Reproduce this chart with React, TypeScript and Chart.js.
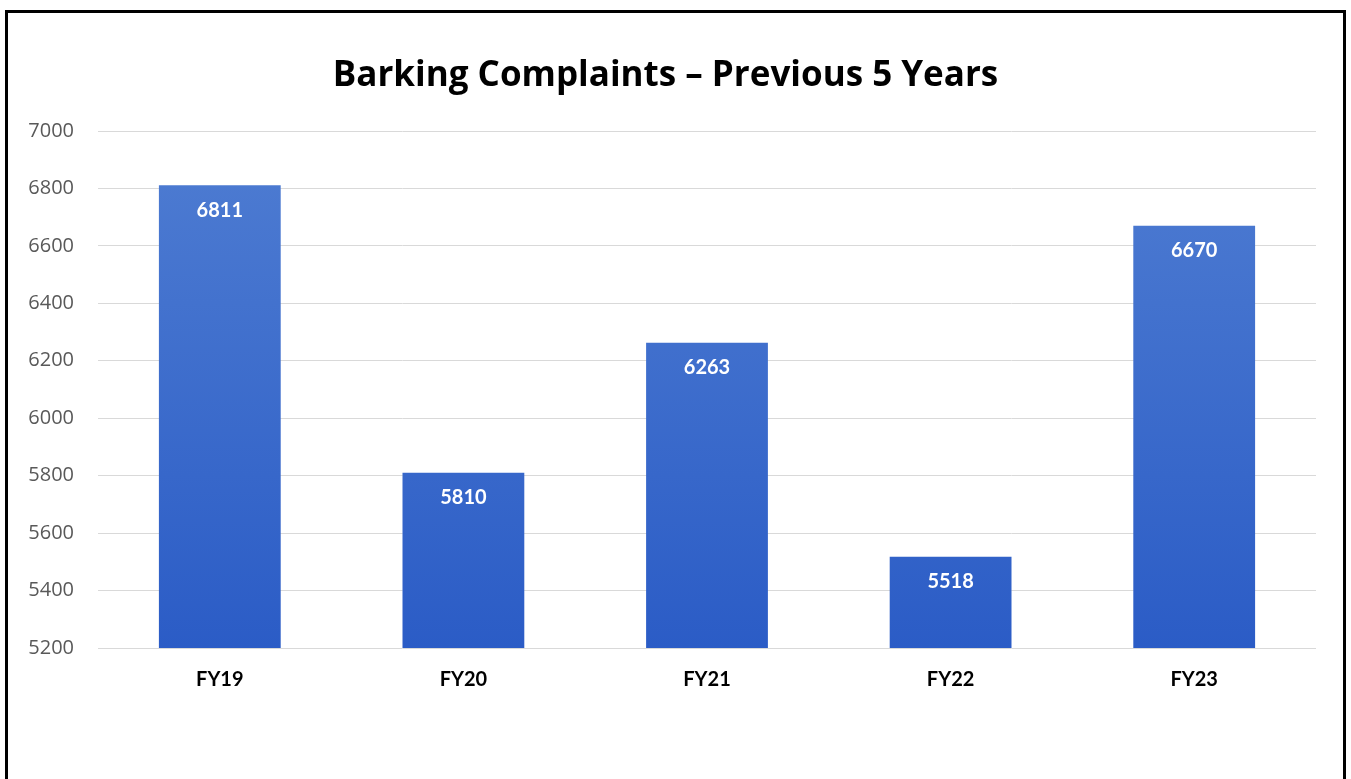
import React, { useEffect, useRef } from "react";
import { Chart, registerables } from "chart.js";

Chart.register(...registerables);

const categories = ["FY19", "FY20", "FY21", "FY22", "FY23"];
const complaints = [6811, 5810, 6263, 5518, 6670];
const yMin = 5200;
const yMax = 7000;
const yStep = 200;
const titleText = "Barking Complaints \u2013 Previous 5 Years";

const valueLabelPlugin = {
  id: "valueLabels",
  afterDatasetsDraw(chart: any) {
    const ctx = chart.ctx;
    const meta = chart.getDatasetMeta(0);
    ctx.save();
    ctx.fillStyle = "#ffffff";
    ctx.font = "bold 20px Lato";
    ctx.textAlign = "center";
    ctx.textBaseline = "middle";
    meta.data.forEach((bar: any, i: number) => {
      const v = chart.data.datasets[0].data[i];
      ctx.fillText(String(v), bar.x, bar.y + 25);
    });
    ctx.restore();
  },
};

export default function App() {
  const canvasRef = useRef<HTMLCanvasElement | null>(null);

  useEffect(() => {
    if (!canvasRef.current) return;
    const chart = new Chart(canvasRef.current, {
      type: "bar",
      data: {
        labels: categories,
        datasets: [
          {
            data: complaints,
            backgroundColor: (c: any) => {
              const area = c.chart.chartArea;
              if (!area) return "#3d6bcc";
              const g = c.chart.ctx.createLinearGradient(0, area.top, 0, area.bottom);
              g.addColorStop(0, "#4f7dd2");
              g.addColorStop(1, "#2b5cc6");
              return g;
            },
            borderWidth: 0,
            categoryPercentage: 1,
            barPercentage: 0.5,
          },
        ],
      },
      options: {
        animation: false,
        responsive: false,
        maintainAspectRatio: false,
        layout: { padding: { left: 15, right: 35, top: 0, bottom: 67 } },
        plugins: {
          legend: { display: false },
          tooltip: { enabled: false },
          title: {
            display: true,
            text: titleText,
            color: "#000000",
            font: { family: "Open Sans", size: 35, weight: "bold" },
            padding: { top: 55, bottom: 34 },
          },
        },
        scales: {
          x: {
            grid: { display: false, drawTicks: false },
            border: { display: false },
            ticks: {
              color: "#000000",
              font: { family: "Lato", size: 20, weight: "bold" },
              padding: 20,
            },
          },
          y: {
            min: yMin,
            max: yMax,
            afterFit: (s: any) => {
              s.width = 83;
            },
            grid: { color: "#d9d9d9", lineWidth: 1, drawTicks: false },
            border: { display: false },
            ticks: {
              stepSize: yStep,
              color: "#595959",
              font: { family: "Open Sans", size: 20 },
              padding: 24,
              callback: (v: any) => String(v),
            },
          },
        },
      },
      plugins: [valueLabelPlugin],
    });
    return () => chart.destroy();
  }, []);

  return (
    <div
      style={{
        position: "absolute",
        left: 0,
        top: 0,
        width: 1351,
        height: 779,
        overflow: "hidden",
        background: "#ffffff",
      }}
    >
      <canvas ref={canvasRef} width={1351} height={779} style={{ display: "block" }} />
      <div
        style={{
          position: "absolute",
          left: 5,
          top: 10,
          width: 1335,
          height: 800,
          border: "3px solid #000000",
          pointerEvents: "none",
        }}
      />
    </div>
  );
}
